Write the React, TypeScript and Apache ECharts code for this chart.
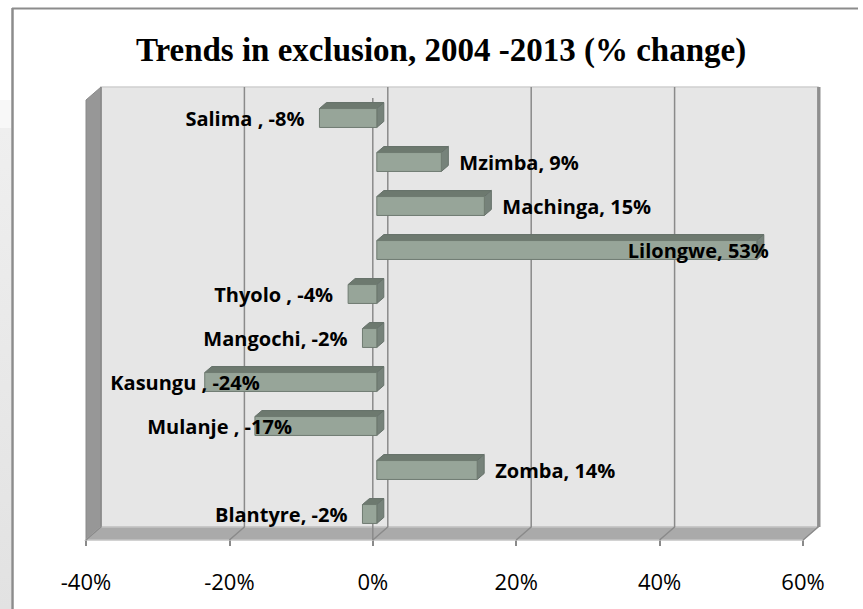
import React, { useEffect, useRef } from "react";
import * as echarts from "echarts";

const titleText = "Trends in exclusion, 2004 -2013 (% change)";
const categories = ["Salima ", "Mzimba", "Machinga", "Lilongwe", "Thyolo ", "Mangochi", "Kasungu ", "Mulanje ", "Zomba", "Blantyre"];
const changes = [-8, 9, 15, 53, -4, -2, -24, -17, 14, -2];
const xTicks = [-40, -20, 0, 20, 40, 60];

// label placement styling (not data): anchor edge of front face + pixel offset
const labelPlacement: Record<string, { align: "left" | "right"; edge: "start" | "end"; offset: number }> = {
  "Lilongwe": { align: "right", edge: "end", offset: 12 },
  "Kasungu ": { align: "right", edge: "start", offset: 55 },
  "Mulanje ": { align: "right", edge: "start", offset: 37 },
};

const DEPTH = [15, -13];
const BAR_OFF = [4, -4];
const BAR_DEPTH = [7, -6];
const GRID_LINE = "#8a8a8a";

export default function App() {
  const ref = useRef<HTMLDivElement>(null);
  useEffect(() => {
    document.body.style.margin = "0";
    const chart = echarts.init(ref.current!, undefined, { renderer: "svg" });
    const option: any = {
      animation: false,
      backgroundColor: "#ffffff",
      grid: { left: 86, right: 60, top: 100, bottom: 69 },
      graphic: [
        {
          type: "rect",
          shape: { x: 0, y: 128, width: 11, height: 481 },
          style: {
            fill: new echarts.graphic.LinearGradient(0, 0, 0, 1, [
              { offset: 0, color: "#efefef" },
              { offset: 1, color: "#e2e2e2" },
            ]),
          },
        },
        {
          type: "rect",
          shape: { x: 0, y: 100, width: 11, height: 28 },
          style: { fill: "#f8f8f8" },
        },
        { type: "line", shape: { x1: 12, y1: 8.5, x2: 858, y2: 8.5 }, style: { stroke: "#8c8c8c", lineWidth: 2 } },
        { type: "line", shape: { x1: 12.5, y1: 8, x2: 12.5, y2: 609 }, style: { stroke: "#8c8c8c", lineWidth: 2.5 } },
        {
          type: "text",
          x: 441,
          y: 50,
          style: {
            text: titleText,
            fill: "#000",
            font: 'bold 33px "Liberation Serif"',
            align: "center",
            verticalAlign: "middle",
            textAlign: "center",
            textVerticalAlign: "middle",
          },
        },
      ],
      xAxis: {
        type: "value",
        min: -40,
        max: 60,
        interval: 20,
        axisLine: { show: false },
        axisTick: { show: true, length: 6, lineStyle: { color: GRID_LINE, width: 2 } },
        splitLine: { show: false },
        axisLabel: {
          formatter: "{value}%",
          fontFamily: "Open Sans",
          fontSize: 22,
          color: "#000",
          margin: 30,
        },
      },
      yAxis: {
        type: "category",
        inverse: true,
        data: categories,
        axisLine: { show: false },
        axisTick: { show: false },
        axisLabel: { show: false },
        splitLine: { show: false },
      },
      series: [
        {
          type: "custom",
          z: 1,
          clip: false,
          data: [[0, 0]],
          encode: { x: 0, y: 1 },
          renderItem: (params: any, api: any) => {
            const cs = params.coordSys;
            const x0 = cs.x, y0 = cs.y, x1 = cs.x + cs.width, y1 = cs.y + cs.height;
            const [dx, dy] = DEPTH;
            const children: any[] = [];
            children.push({
              type: "rect",
              shape: { x: x0 + dx, y: y0 + dy, width: x1 - x0, height: y1 - y0 },
              style: { fill: "#e6e6e6", stroke: "#d0d0d0", lineWidth: 1.5 },
            });
            children.push({
              type: "polygon",
              shape: { points: [[x0, y0], [x0 + dx, y0 + dy], [x0 + dx, y1 + dy], [x0, y1]] },
              style: { fill: "#979797", stroke: "#8a8a8a", lineWidth: 1 },
            });
            children.push({
              type: "polygon",
              shape: { points: [[x0, y1], [x0 + dx, y1 + dy], [x1 + dx, y1 + dy], [x1, y1]] },
              style: { fill: "#aaaaaa", stroke: "#c4c4c4", lineWidth: 1.5 },
            });
            xTicks.forEach((t) => {
              const px = api.coord([t, 0])[0];
              children.push({
                type: "polyline",
                shape: { points: [[px + dx, y0 + dy], [px + dx, y1 + dy], [px, y1]] },
                style: { stroke: GRID_LINE, lineWidth: 1.5, fill: null },
              });
            });
            children.push({
              type: "line",
              shape: { x1: x1 + dx + 1, y1: y0 + dy, x2: x1 + dx + 1, y2: y1 + dy },
              style: { stroke: "#8f8f8f", lineWidth: 3 },
            });
            const zx = api.coord([0, 0])[0];
            children.push({
              type: "line",
              shape: { x1: zx, y1: y0 - 2, x2: zx, y2: y1 },
              style: { stroke: GRID_LINE, lineWidth: 1.5 },
            });
            return { type: "group", children };
          },
        },
        {
          type: "custom",
          z: 3,
          clip: false,
          data: changes.map((v, i) => [v, i]),
          encode: { x: 0, y: 1 },
          renderItem: (params: any, api: any) => {
            const i = params.dataIndex;
            const v = api.value(0);
            const c = api.value(1);
            const p0 = api.coord([0, c]);
            const p1 = api.coord([v, c]);
            const band = api.size([0, 1])[1];
            const h = band * 0.43;
            const xl = Math.min(p0[0], p1[0]) + BAR_OFF[0];
            const xr = Math.max(p0[0], p1[0]) + BAR_OFF[0];
            const yc = p0[1] + BAR_OFF[1];
            const yt = yc - h / 2, yb = yc + h / 2;
            const [bx, by] = BAR_DEPTH;
            const name = categories[i];
            const pl = labelPlacement[name];
            let lx: number, align: "left" | "right";
            if (pl) {
              align = pl.align;
              lx = (pl.edge === "start" ? xl : xr) + pl.offset;
            } else if (v >= 0) {
              align = "left";
              lx = xr + 18;
            } else {
              align = "right";
              lx = xl - 15;
            }
            return {
              type: "group",
              children: [
                {
                  type: "polygon",
                  shape: { points: [[xl, yt], [xr, yt], [xr + bx, yt + by], [xl + bx, yt + by]] },
                  style: { fill: "#6d796f", stroke: "#66716a", lineWidth: 1 },
                },
                {
                  type: "polygon",
                  shape: { points: [[xr, yt], [xr + bx, yt + by], [xr + bx, yb + by], [xr, yb]] },
                  style: { fill: "#76827a", stroke: "#66716a", lineWidth: 1 },
                },
                {
                  type: "rect",
                  shape: { x: xl, y: yt, width: xr - xl, height: h },
                  style: { fill: "#97a599", stroke: "#6f7b71", lineWidth: 1 },
                },
                {
                  type: "text",
                  x: lx,
                  y: yc,
                  z2: 10,
                  style: {
                    text: `${name}, ${v}%`,
                    fill: "#000",
                    font: 'bold 20px "Open Sans"',
                    align,
                    verticalAlign: "middle",
                    textAlign: align,
                    textVerticalAlign: "middle",
                  },
                },
              ],
            };
          },
        },
      ],
    };
    chart.setOption(option);
    return () => chart.dispose();
  }, []);
  return (
    <div
      ref={ref}
      style={{ position: "absolute", left: 0, top: 0, width: 863, height: 609, background: "#fff" }}
    />
  );
}
